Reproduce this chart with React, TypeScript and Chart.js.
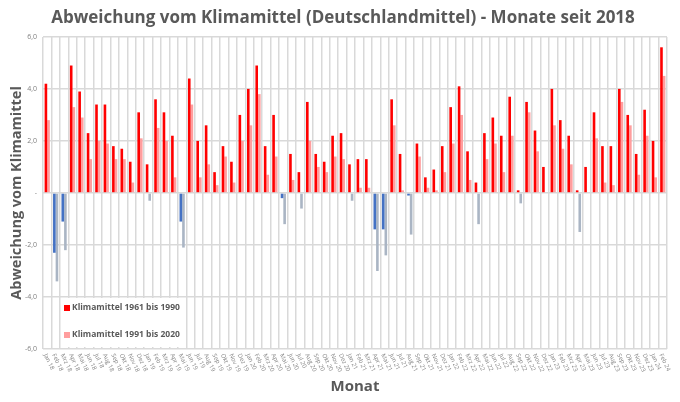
import React, { useEffect, useRef } from "react";
import { Chart, registerables } from "chart.js";

Chart.register(...registerables);

const monthAbbr = ["Jan", "Feb", "Mrz", "Apr", "Mai", "Jun", "Jul", "Aug", "Sep", "Okt", "Nov", "Dez"];
const years = ["18", "19", "20", "21", "22", "23", "24"];
const monthCount = 74;

const dev6190 = [
  4.2, -2.3, -1.1, 4.9, 3.9, 2.3, 3.4, 3.4, 1.8, 1.7, 1.2, 3.1,
  1.1, 3.6, 3.1, 2.2, -1.1, 4.4, 2.0, 2.6, 0.8, 1.8, 1.2, 3.0,
  4.0, 4.9, 1.8, 3.0, -0.2, 1.5, 0.8, 3.5, 1.5, 1.2, 2.2, 2.3,
  1.1, 1.3, 1.3, -1.4, -1.4, 3.6, 1.5, -0.1, 1.9, 0.6, 0.9, 1.8,
  3.3, 4.1, 1.6, 0.4, 2.3, 2.9, 2.2, 3.7, 0.1, 3.5, 2.4, 1.0,
  4.0, 2.8, 2.2, 0.1, 1.0, 3.1, 1.8, 1.8, 4.0, 3.0, 1.5, 3.2,
  2.0, 5.6,
];

const dev9120 = [
  2.8, -3.4, -2.2, 3.3, 2.9, 1.3, 2.0, 1.9, 1.3, 1.3, 0.4, 2.1,
  -0.3, 2.5, 2.0, 0.6, -2.1, 3.4, 0.6, 1.1, 0.3, 1.4, 0.4, 2.0,
  2.6, 3.8, 0.7, 1.4, -1.2, 0.5, -0.6, 2.0, 1.0, 0.8, 1.4, 1.3,
  -0.3, 0.2, 0.2, -3.0, -2.4, 2.6, 0.1, -1.6, 1.4, 0.2, 0.1, 0.8,
  1.9, 3.0, 0.5, -1.2, 1.3, 1.9, 0.8, 2.2, -0.4, 3.1, 1.6, 0.0,
  2.6, 1.7, 1.1, -1.5, 0.0, 2.1, 0.4, 0.3, 3.5, 2.6, 0.7, 2.2,
  0.6, 4.5,
];

const seriesNames = ["Klimamittel 1961 bis 1990", "Klimamittel 1991 bis 2020"];
const titleText = "Abweichung vom Klimamittel (Deutschlandmittel) - Monate seit 2018";
const yTitle = "Abweichung vom Klimamittel";
const xTitle = "Monat";

const labels: string[] = [];
for (let i = 0; i < monthCount; i++) {
  labels.push(monthAbbr[i % 12] + " " + years[Math.floor(i / 12)]);
}

const RED = "#FF0000";
const BLUE = "#4472C4";
const PINK = "#FF9E9E";
const GRAY = "#AAB5C4";
const TXT = "#595959";
const GRID = "#D9D9D9";

const customPlugin = {
  id: "customDraw",
  afterDraw(chart: any) {
    const ctx = chart.ctx;
    const xs = chart.scales.x;
    const area = chart.chartArea;
    // rotated x labels
    ctx.save();
    ctx.fillStyle = "#7F7F7F";
    ctx.font = "6px 'Open Sans'";
    ctx.textAlign = "left";
    ctx.textBaseline = "middle";
    const ang = (65 * Math.PI) / 180;
    labels.forEach((lab, i) => {
      const x = xs.getPixelForTick(i);
      ctx.save();
      ctx.translate(x - 2, area.bottom + 5);
      ctx.rotate(ang);
      ctx.fillText(lab, 0, 0);
      ctx.restore();
    });
    ctx.restore();
    // legend
    ctx.save();
    ctx.fillStyle = "#FFFFFF";
    ctx.fillRect(63, 298, 116, 49);
    const items = [
      { c: RED, t: chart.data.datasets[0].label, y: 308 },
      { c: PINK, t: chart.data.datasets[1].label, y: 335 },
    ];
    ctx.font = "bold 8.5px 'Open Sans'";
    ctx.textBaseline = "middle";
    ctx.textAlign = "left";
    items.forEach((it) => {
      ctx.fillStyle = it.c;
      ctx.fillRect(64, it.y - 3, 6, 6);
      ctx.fillStyle = TXT;
      ctx.fillText(it.t, 72, it.y);
    });
    ctx.restore();
  },
};

export default function App() {
  const ref = useRef<HTMLCanvasElement | null>(null);
  useEffect(() => {
    if (!ref.current) return;
    const chart = new Chart(ref.current, {
      type: "bar",
      data: {
        labels,
        datasets: [
          {
            label: seriesNames[0],
            data: dev6190,
            backgroundColor: dev6190.map((v) => (v >= 0 ? RED : BLUE)),
            categoryPercentage: 0.62,
            barPercentage: 1.0,
          },
          {
            label: seriesNames[1],
            data: dev9120,
            backgroundColor: dev9120.map((v) => (v >= 0 ? PINK : GRAY)),
            categoryPercentage: 0.62,
            barPercentage: 1.0,
          },
        ],
      },
      options: {
        animation: false,
        responsive: false,
        maintainAspectRatio: false,
        layout: { padding: { left: 6, right: 0, top: 0, bottom: 6 } },
        plugins: {
          legend: { display: false },
          tooltip: { enabled: false },
          title: {
            display: true,
            text: titleText,
            color: TXT,
            font: { family: "'Open Sans'", size: 17, weight: "bold" },
            padding: { top: 8, bottom: 8.5 },
          },
        },
        scales: {
          x: {
            grid: { color: GRID, lineWidth: 1.5, drawTicks: false, offset: true },
            border: { display: false },
            ticks: { display: false },
            title: {
              display: true,
              text: xTitle,
              color: TXT,
              font: { family: "'Open Sans'", size: 15, weight: "bold" },
              padding: { top: 0, bottom: 0 },
            },
            afterFit: (s: any) => {
              s.height = 47;
            },
          },
          y: {
            min: -6,
            max: 6,
            grid: { color: GRID, lineWidth: 1.5, drawTicks: false },
            border: { display: false },
            ticks: {
              stepSize: 2,
              padding: 6,
              color: "#7F7F7F",
              font: { family: "'Open Sans'", size: 7 },
              callback: (v: any) => (Number(v) === 0 ? "-" : Number(v).toFixed(1).replace(".", ",")),
            },
            title: {
              display: true,
              text: yTitle,
              color: TXT,
              font: { family: "'Open Sans'", size: 14.5, weight: "bold" },
              padding: { top: 2, bottom: 0 },
            },
            afterFit: (s: any) => {
              s.width = 37;
            },
          },
          y2: {
            position: "right",
            min: -6,
            max: 6,
            grid: { display: false },
            border: { display: false },
            ticks: { display: false },
            afterFit: (s: any) => {
              s.width = 13;
            },
          },
        },
      },
      plugins: [customPlugin],
    });
    return () => chart.destroy();
  }, []);
  return (
    <div style={{ position: "fixed", left: 0, top: 0, width: 680, height: 402, background: "#fff" }}>
      <canvas ref={ref} width={680} height={402} style={{ width: 680, height: 402 }} />
    </div>
  );
}
